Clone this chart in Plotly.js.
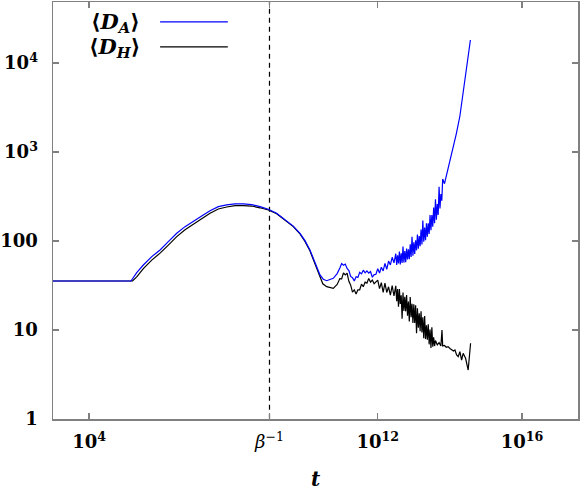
<!DOCTYPE html>
<html>
<head>
<meta charset="utf-8">
<script src="https://cdn.plot.ly/plotly-3.0.1.min.js"></script>
<style>html,body{margin:0;padding:0;background:#fff;}#chart{width:581px;height:491px;}</style>
</head>
<body>
<div id="chart"></div>
<script>
// <D_A> series (time t, value)
var tA = [1e3, 1.45e5, 2.09e5, 3.19e5, 5.46e5, 9.27e5, 1.57e6, 2.69e6, 4.56e6, 7.74e6, 1.32e7, 2.25e7, 3.82e7, 6.52e7, 1.11e8, 1.88e8, 3.21e8, 5.46e8, 9.27e8, 1.58e9, 2.69e9, 4.56e9, 7.0e9, 9.62e9, 1.32e10, 1.64e10, 2.03e10, 2.51e10, 3.09e10, 3.84e10, 5.85e10, 7.5e10, 8.97e10,
  1.000e11, 1.122e11, 1.259e11, 1.413e11, 1.585e11, 1.778e11, 1.995e11, 2.239e11, 2.512e11, 2.818e11, 3.162e11, 3.548e11, 3.981e11, 4.467e11, 5.012e11, 5.623e11, 6.310e11, 7.079e11, 7.943e11, 8.913e11,
  1.000e12, 1.122e12, 1.259e12, 1.413e12, 1.585e12, 1.778e12, 1.995e12, 2.239e12, 2.512e12, 2.818e12,
  3.162e12, 3.350e12, 3.548e12, 3.758e12, 3.981e12, 4.217e12, 4.467e12, 4.732e12, 5.012e12, 5.309e12, 5.623e12, 5.957e12, 6.310e12, 6.683e12, 7.079e12, 7.499e12, 7.943e12, 8.414e12, 8.913e12, 9.441e12,
  1.000e13, 1.059e13, 1.122e13, 1.189e13, 1.259e13, 1.334e13, 1.413e13, 1.496e13, 1.585e13, 1.679e13, 1.778e13, 1.884e13, 1.995e13, 2.113e13, 2.239e13, 2.371e13, 2.512e13, 2.661e13, 2.818e13, 2.985e13,
  3.162e13, 3.350e13, 3.548e13, 3.758e13, 3.981e13, 4.217e13, 4.467e13, 4.732e13, 5.012e13, 5.309e13, 5.623e13, 5.957e13, 6.310e13,
  7.08e13, 8.11e13, 1.0e14, 1.236e14, 1.514e14, 1.892e14, 2.333e14, 2.904e14, 3.698e14];
var dA = [35.5, 35.5, 44.1, 53.7, 66.7, 79.3, 98.2, 122, 145, 165, 191, 219, 243, 254, 261, 261, 256, 243, 227, 205, 175, 147, 122, 101, 79.3, 64, 51.4, 41.5, 37.2, 35.8, 38.1, 43, 50,
  55.9, 53.5, 55.1, 49.1, 46.6, 40.0, 38.7, 35.6, 39.7, 39.0, 44.5, 42.7, 47.0, 43.8, 46.1, 43.6, 45.4, 39.1, 41.9, 42.3,
  48.8, 43.7, 50.8, 46.1, 56.1, 47.9, 59.5, 53.9, 65.6, 56.7,
  72.0, 53.9, 69.1, 55.8, 76.1, 54.5, 72.6, 56.5, 86.4, 57.2, 77.3, 57.8, 82.1, 61.9, 80.7, 62.6, 91.6, 66.0, 111.2, 68.3,
  96.5, 71.6, 101.6, 78.5, 118.1, 81.7, 113.3, 87.4, 134.6, 91.6, 169.9, 98.1, 141.6, 102.2, 158.1, 111.4, 158.2, 120.1, 195.1, 132.4,
  195.9, 145.1, 237.7, 158.2, 294.8, 173.4, 259.4, 195.5, 407.7, 232.2, 336, 283, 496.5,
  440, 552, 776, 1109, 1622, 2535, 4603, 9247, 18113];

// <D_H> series (time t, value)
var tH = [1e3, 1.6e5, 2.09e5, 3.19e5, 5.46e5, 9.27e5, 1.57e6, 2.69e6, 4.56e6, 7.74e6, 1.32e7, 2.25e7, 3.82e7, 6.52e7, 1.11e8, 1.88e8, 3.21e8, 5.46e8, 9.27e8, 1.58e9, 2.69e9, 4.56e9, 7.0e9, 9.62e9, 1.32e10, 1.64e10, 2.03e10, 2.51e10, 3.0e10, 3.85e10, 5.85e10, 7.5e10,
  8.913e10, 1.000e11, 1.122e11, 1.259e11, 1.413e11, 1.585e11, 1.778e11, 1.995e11, 2.239e11, 2.512e11, 2.818e11, 3.162e11, 3.548e11, 3.981e11, 4.467e11, 5.012e11, 5.623e11, 6.310e11, 7.079e11, 7.943e11, 8.913e11,
  1.000e12, 1.122e12, 1.259e12, 1.413e12, 1.585e12, 1.778e12, 1.995e12, 2.239e12, 2.512e12, 2.818e12,
  3.162e12, 3.350e12, 3.548e12, 3.758e12, 3.981e12, 4.217e12, 4.467e12, 4.732e12, 5.012e12, 5.309e12, 5.623e12, 5.957e12, 6.310e12, 6.683e12, 7.079e12, 7.499e12, 7.943e12, 8.414e12, 8.913e12, 9.441e12,
  1.000e13, 1.059e13, 1.122e13, 1.189e13, 1.259e13, 1.334e13, 1.413e13, 1.496e13, 1.585e13, 1.679e13, 1.778e13, 1.884e13, 1.995e13, 2.113e13, 2.239e13, 2.371e13, 2.512e13, 2.661e13, 2.818e13, 2.985e13,
  3.162e13, 3.350e13, 3.548e13, 3.758e13, 3.981e13, 4.467e13, 5.012e13, 5.623e13, 6.03e13, 6.310e13, 7.079e13, 7.943e13, 8.913e13,
  1.0e14, 1.122e14, 1.259e14, 1.38e14, 1.535e14, 1.70e14, 1.89e14, 2.11e14, 2.33e14, 2.72e14, 3.21e14, 3.74e14];
var dH = [35.5, 35.5, 39.5, 49, 61, 73, 90, 112, 134, 153, 178, 205, 229, 241, 249, 250, 247, 236, 223, 202, 173, 145, 120, 99, 77.5, 62, 49.5, 39, 33, 30.7, 29.4, 32.5,
  37.8, 37.5, 43.8, 41.5, 43.6, 35.2, 31.9, 26.7, 28.3, 25.4, 28.3, 28.3, 32.8, 30.6, 34.5, 33.6, 37.8, 34.5, 36.4, 33.1, 35.0,
  36.3, 29.1, 34.0, 26.5, 33.6, 26.4, 30.6, 24.6, 31.5, 24.1,
  31.4, 21.0, 28.8, 18.2, 28.8, 19.6, 24.5, 13.4, 26.3, 16.4, 23.6, 16.2, 24.7, 14.5, 20.9, 12.5, 23.5, 13.9, 19.7, 12.0,
  19.4, 12.0, 18.9, 9.2, 17.5, 10.6, 15.4, 9.7, 16.2, 9.4, 13.9, 8.1, 14.4, 7.9, 11.3, 7.8, 11.6, 6.9, 10.1, 6.3,
  10.7, 6.5, 8.3, 6.6, 7.6, 6.8, 7.2, 6.6, 10, 6.6, 6.7, 6.4, 6.5,
  6.2, 6.0, 5.8, 5.96, 5.24, 5.01, 5.7, 4.6, 5.47, 4.81, 3.55, 7.1, 7.87];

// axis ticks
var xTickVals = [1e4, 1e9, 1e12, 1e16];
var xTickText = ['10<sup>4</sup>', '<span style="font-weight:normal"><i>β</i><sup>−1</sup></span>', '10<sup>12</sup>', '10<sup>16</sup>'];
var yTickVals = [1, 10, 100, 1000, 10000];
var yTickText = ['1', '10', '100', '10<sup>3</sup>', '10<sup>4</sup>'];
var betaInv = [1e9, 1e9];
var betaLineY = [0.5, 1e5];
var seriesNames = ['⟨<i>D</i><sub><i>A</i></sub>⟩', '⟨<i>D</i><sub><i>H</i></sub>⟩'];
var seriesColors = ['#0000ff', '#000000'];

var traces = [
  {x: betaInv, y: betaLineY, mode: 'lines', line: {color: '#000', width: 1.2, dash: '5px,4px'}, showlegend: false, hoverinfo: 'skip'},
  {x: tH, y: dH, mode: 'lines', name: seriesNames[1], line: {color: seriesColors[1], width: 1.2}, showlegend: false},
  {x: tA, y: dA, mode: 'lines', name: seriesNames[0], line: {color: seriesColors[0], width: 1.2}, showlegend: false}
];

var axisCommon = {
  type: 'log', showgrid: false, zeroline: false, showline: true, linecolor: '#808080', linewidth: 1.5,
  mirror: 'ticks', ticks: 'inside', ticklen: 6, tickcolor: '#808080', tickwidth: 1.2,
  tickfont: {family: 'DejaVu Serif', size: 18, color: '#000', weight: 'bold'}
};

var layout = {
  width: 581, height: 491,
  margin: {l: 53, r: 3, t: 2, b: 72},
  paper_bgcolor: '#fff', plot_bgcolor: '#fff',
  showlegend: false,
  xaxis: Object.assign({}, axisCommon, {
    range: [3, 17.55], tickmode: 'array', tickvals: xTickVals, ticktext: xTickText,
    ticklabelstandoff: 6,
    title: {text: '<b><i>t</i></b>', font: {family: 'DejaVu Serif', size: 20, color: '#000'}, standoff: 24}
  }),
  yaxis: Object.assign({}, axisCommon, {
    range: [0, 4.685], tickmode: 'array', tickvals: yTickVals, ticktext: yTickText,
    ticklabelstandoff: 10
  }),
  annotations: [
    {xref: 'paper', yref: 'paper', x: 0.17, y: 0.952, xanchor: 'right', yanchor: 'middle', showarrow: false,
     text: '<b>' + seriesNames[0] + '</b>', font: {family: 'DejaVu Serif', size: 21, color: '#000'}},
    {xref: 'paper', yref: 'paper', x: 0.17, y: 0.89, xanchor: 'right', yanchor: 'middle', showarrow: false,
     text: '<b>' + seriesNames[1] + '</b>', font: {family: 'DejaVu Serif', size: 21, color: '#000'}}
  ],
  shapes: [
    {type: 'line', xref: 'paper', yref: 'paper', x0: 0.204, x1: 0.333, y0: 0.9525, y1: 0.9525, line: {color: seriesColors[0], width: 1.3}},
    {type: 'line', xref: 'paper', yref: 'paper', x0: 0.204, x1: 0.333, y0: 0.8925, y1: 0.8925, line: {color: seriesColors[1], width: 1.3}}
  ]
};

Plotly.newPlot('chart', traces, layout, {staticPlot: true, displayModeBar: false});
</script>
</body>
</html>
